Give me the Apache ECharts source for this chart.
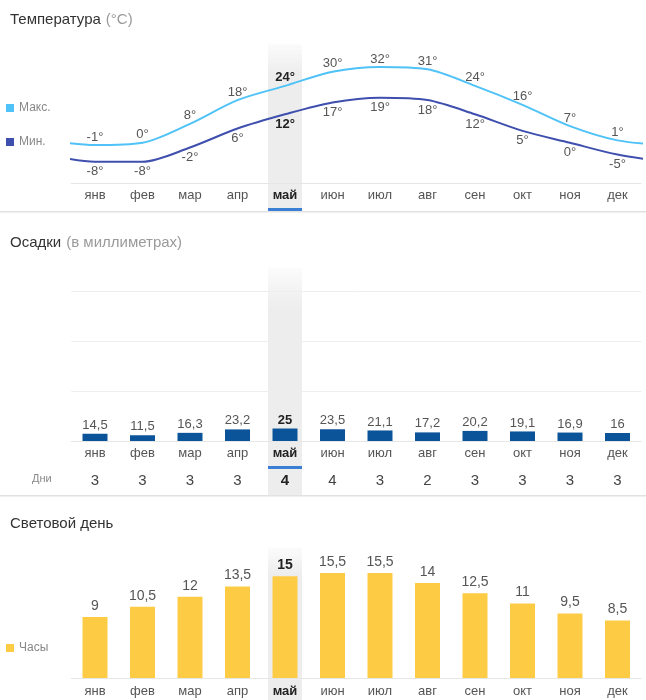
<!DOCTYPE html>
<html><head><meta charset="utf-8">
<script src="https://cdn.jsdelivr.net/npm/echarts/dist/echarts.min.js"></script>
<style>html,body{margin:0;padding:0;background:#fff}#c{width:646px;height:700px}</style>
</head><body><div id="c"></div>
<script>
const months = ['янв','фев','мар','апр','май','июн','июл','авг','сен','окт','ноя','дек'];
const tempMax = [-1,0,8,18,24,30,32,31,24,16,7,1];
const tempMin = [-8,-8,-2,6,12,17,19,18,12,5,0,-5];
const precip = [14.5,11.5,16.3,23.2,25,23.5,21.1,17.2,20.2,19.1,16.9,16];
const rainDays = [3,3,3,3,4,4,3,2,3,3,3,3];
const daylight = [9,10.5,12,13.5,15,15.5,15.5,14,12.5,11,9.5,8.5];
const highlight = 4;

const FONT = 'Arial, "Liberation Sans", sans-serif';
const LBL = '#555';
const BOLD = {fontWeight:'bold', color:'#222'};
const comma = v => String(v).replace('.', ',');

function catData(arr){
  return arr.map((v,i)=> i===highlight ? {value:String(v), textStyle:Object.assign({}, BOLD)} : String(v));
}
function cyc(arr){
  const pts = arr.map((v,i)=>({value:[i,v], label: i===highlight ? Object.assign({}, BOLD) : {}}));
  return [{value:[-1,arr[arr.length-1]], label:{show:false}}].concat(pts, [{value:[arr.length, arr[0]], label:{show:false}}]);
}
function barData(arr){
  return arr.map((v,i)=> i===highlight ? {value:v, label:Object.assign({}, BOLD)} : v);
}

const G = {left:71.25, width:570};
const monthAxis = (grid, margin) => ({
  type:'category', gridIndex:grid, data:catData(months),
  axisLine:{show:true, onZero:false, lineStyle:{color:'#e6e6e6', width:1}}, axisTick:{show:false},
  axisLabel:{margin:margin, fontSize:13, color:LBL, fontFamily:FONT}
});
const richTitle = {a:{fontSize:15,color:'#333',fontFamily:FONT,fontWeight:'normal'}, b:{fontSize:15,color:'#9a9a9a',fontFamily:FONT,fontWeight:'normal'}};
const legendBase = {left:1, icon:'rect', itemWidth:8, itemHeight:8, selectedMode:false, textStyle:{color:'#888', fontSize:12, fontFamily:FONT}};

const chart = echarts.init(document.getElementById('c'), null, {renderer:'canvas'});
chart.setOption({
  animation:false,
  textStyle:{fontFamily:FONT},
  title:[
    {text:'{a|Температура} {b|(°C)}', left:5, top:6, textStyle:{fontWeight:'normal', rich:richTitle}},
    {text:'{a|Осадки} {b|(в миллиметрах)}', left:5, top:229, textStyle:{fontWeight:'normal', rich:richTitle}},
    {text:'{a|Световой день}', left:5, top:511, textStyle:{fontWeight:'normal', rich:richTitle}}
  ],
  legend:[
    Object.assign({data:['Макс.'], top:97}, legendBase),
    Object.assign({data:['Мин.'], top:131}, legendBase),
    Object.assign({data:['Часы'], top:637}, legendBase)
  ],
  grid:[
    {left:G.left, width:G.width, top:48, height:135},
    {left:G.left, width:G.width, top:291, height:150},
    {left:G.left, width:G.width, top:556, height:122}
  ],
  xAxis:[
    monthAxis(0, 6),
    {type:'value', gridIndex:0, min:-0.5, max:11.5, show:false},
    monthAxis(1, 6),
    {type:'category', gridIndex:1, data:catData(rainDays), position:'bottom', offset:28,
     axisLine:{show:false}, axisTick:{show:false}, axisLabel:{margin:4, fontSize:15, color:'#444', fontFamily:FONT}},
    monthAxis(2, 7)
  ],
  yAxis:[
    {type:'value', gridIndex:0, min:-17, max:40, show:false},
    {type:'value', gridIndex:1, min:0, max:300, interval:100, axisLine:{show:false}, axisTick:{show:false}, axisLabel:{show:false},
     splitLine:{show:true, lineStyle:{color:'#eeeeee', width:1}}},
    {type:'value', gridIndex:2, min:0, max:18, show:false}
  ],
  series:[
    {name:'Макс.', type:'line', xAxisIndex:1, yAxisIndex:0, data:cyc(tempMax), smooth:0.3,
     symbol:'circle', symbolSize:1, color:'#4fc3f7', lineStyle:{width:2, color:'#4fc3f7'}, z:3,
     label:{show:true, position:'top', distance:1, fontSize:13, color:LBL, fontFamily:FONT, formatter:p=>p.value[1]+'°'}},
    {name:'Мин.', type:'line', xAxisIndex:1, yAxisIndex:0, data:cyc(tempMin), smooth:0.3,
     symbol:'circle', symbolSize:1, color:'#3f4fae', lineStyle:{width:2, color:'#3f4fae'}, z:3,
     label:{show:true, position:'bottom', distance:3, fontSize:13, color:LBL, fontFamily:FONT, formatter:p=>p.value[1]+'°'}},
    {name:'Осадки', type:'bar', xAxisIndex:2, yAxisIndex:1, data:barData(precip), barWidth:25, color:'#0b5499',
     label:{show:true, position:'top', distance:2, fontSize:13, color:LBL, fontFamily:FONT, formatter:p=>comma(p.value)}},
    {name:'Часы', type:'bar', xAxisIndex:4, yAxisIndex:2, data:barData(daylight), barWidth:25, color:'#fecb45',
     label:{show:true, position:'top', distance:4, fontSize:14, color:LBL, fontFamily:FONT, formatter:p=>comma(p.value)}}
  ]
});

const cx = chart.convertToPixel({xAxisIndex:0}, months[highlight]);
const bw = 34;
const bandFill = () => ({type:'linear', x:0, y:0, x2:0, y2:1, colorStops:[
  {offset:0, color:'rgba(236,236,236,0.2)'}, {offset:0.18, color:'#ededed'}, {offset:1, color:'#ededed'}]});
const band = (y0,y1) => ({type:'rect', z:-1, shape:{x:cx-bw/2, y:y0, width:bw, height:y1-y0}, style:{fill:bandFill()}, silent:true});
const line = (y) => ({type:'rect', z:-1, shape:{x:0, y:y, width:646, height:1.5}, style:{fill:'#e2e2e2'}, silent:true});
const under = (y) => ({type:'rect', z:5, shape:{x:cx-bw/2, y:y, width:bw, height:3}, style:{fill:'#3b7fd4'}, silent:true});
chart.setOption({graphic:[
  band(44, 212), band(268, 496), band(548, 700),
  line(211), line(495),
  under(208), under(466),
  {type:'text', left:32, top:473, style:{text:'Дни', fontSize:11, fill:'#888', fontFamily:FONT}, silent:true}
]});
</script>
</body></html>
